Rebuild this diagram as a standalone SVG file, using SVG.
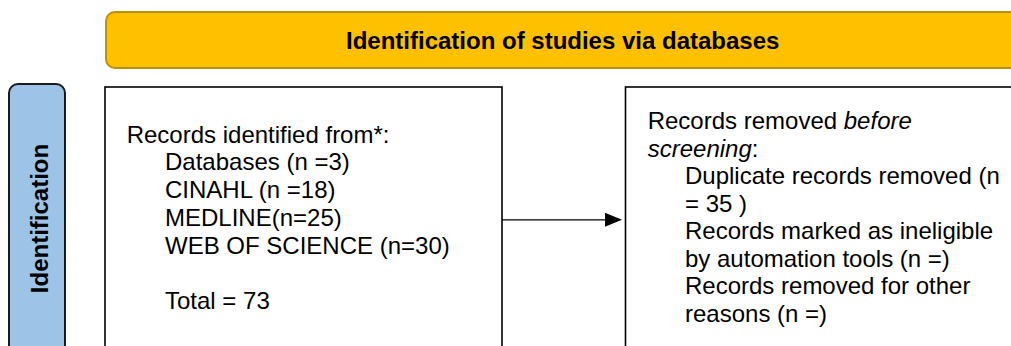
<svg xmlns="http://www.w3.org/2000/svg" width="1011" height="346" viewBox="0 0 1011 346">
<style>
text{font-family:"Liberation Sans",Arial,sans-serif;fill:#000}
.body{font-size:24px}
.bold{font-size:24px;font-weight:bold}
.box{fill:#fff;stroke:#000;stroke-width:1.6}
</style>
<rect width="1011" height="346" fill="#fff"/>
<g id="banner">
<rect x="106" y="12" width="930" height="56" rx="9" ry="9" fill="#FFC000" stroke="#BF9000" stroke-width="2"/>
<text class="bold" x="562.7" y="49" text-anchor="middle">Identification of studies via databases</text>
</g>
<g id="side-identification">
<rect x="9" y="84" width="56" height="300" rx="9" ry="9" fill="#9DC3E6" stroke="#1a1a1a" stroke-width="2"/>
<text class="bold" transform="translate(47.5,218.5) rotate(-90)" text-anchor="middle">Identification</text>
</g>
<g id="records-identified">
<rect class="box" x="105" y="87" width="397" height="300"/>
<text class="body" x="126.7" y="142.7">Records identified from*:</text>
<text class="body" x="165" y="170.4">Databases (n =3)</text>
<text class="body" x="165" y="198.1">CINAHL (n =18)</text>
<text class="body" x="165" y="225.8">MEDLINE(n=25)</text>
<text class="body" x="165" y="253.5">WEB OF SCIENCE (n=30)</text>
<text class="body" x="165" y="309.2">Total = 73</text>
</g>
<g id="records-removed">
<rect class="box" x="625.5" y="87" width="420" height="300"/>
<text class="body" x="647.7" y="129.3">Records removed <tspan font-style="italic">before</tspan></text>
<text class="body" x="647.7" y="156.8"><tspan font-style="italic">screening</tspan>:</text>
<text class="body" x="685" y="184.3">Duplicate records removed (n</text>
<text class="body" x="685" y="211.8">= 35 )</text>
<text class="body" x="685" y="239.3">Records marked as ineligible</text>
<text class="body" x="685" y="266.8">by automation tools (n =)</text>
<text class="body" x="685" y="294.3">Records removed for other</text>
<text class="body" x="685" y="321.8">reasons (n =)</text>
</g>
<g id="connectors">
<line x1="502" y1="219.8" x2="606" y2="219.8" stroke="#000" stroke-width="1.3"/>
<polygon points="605,212.8 622,219.8 605,226.8" fill="#000"/>
</g>
</svg>
